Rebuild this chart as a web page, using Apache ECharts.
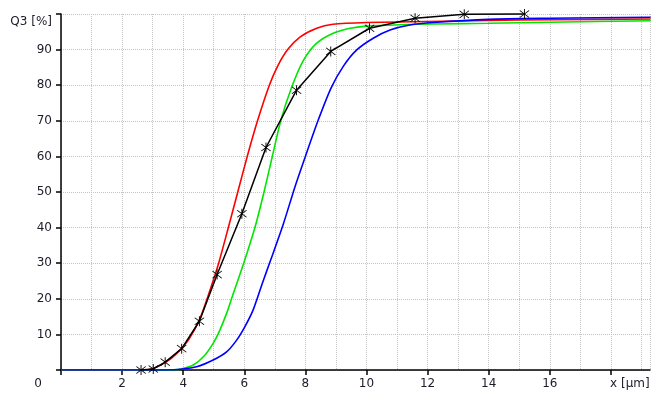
<!DOCTYPE html>
<html><head><meta charset="utf-8">
<script src="https://cdn.jsdelivr.net/npm/echarts@6/dist/echarts.min.js"></script>
<style>html,body{margin:0;padding:0;background:#fff}#c{width:656px;height:406px}</style>
</head><body><div id="c"></div>
<script>
// ---- data ----
var redCurve = [[0,0],[2.8,0],[3.0,0.4],[3.25,1.3],[3.6,3.2],[3.9,5.6],[4.2,8.8],[4.55,14.5],[4.88,22.5],[5.15,29.7],[5.48,40.1],[5.78,49.8],[6.1,60.1],[6.44,70.2],[6.82,80],[7.1,85.5],[7.42,90],[7.82,93.5],[8.37,96],[8.9,97.1],[10,97.6],[12,97.9],[14,98.2],[16,98.4],[19.3,98.6]];
var greenCurve = [[0,0],[3.67,0],[3.9,0.2],[4.33,1.4],[4.66,3.7],[4.98,7.5],[5.2,11.2],[5.42,15.9],[5.64,21.5],[5.97,29.7],[6.35,40.1],[6.64,49.8],[6.92,60.1],[7.2,70.2],[7.55,79.4],[7.93,86.9],[8.37,91.8],[8.91,94.6],[9.46,96.0],[10.0,96.6],[11.1,97.0],[12.2,97.2],[14,97.4],[16,97.7],[19.3,98.1]];
var blueCurve = [[0,0],[3.5,0],[3.9,0.2],[4.44,0.9],[4.98,2.8],[5.42,5.1],[5.75,8.4],[6.02,12.2],[6.29,16.9],[6.6,24.6],[6.86,30.8],[7.27,40.8],[7.66,51.5],[8.0,60],[8.42,70.2],[8.85,79.4],[9.24,85.3],[9.68,89.9],[10.22,93.2],[10.77,95.5],[11.42,96.9],[12.19,97.6],[14,98.5],[16,98.8],[19.3,99.1]];
var blackX = [2.62,3.02,3.41,3.95,4.53,5.11,5.92,6.71,7.71,8.83,10.1,11.59,13.2,15.17];
var blackY = [0,0.3,2.2,6.0,13.7,26.8,43.9,62.5,78.6,89.5,96.0,98.8,99.9,100];
var xTickLabels = {0:'0',2:'2',4:'4',6:'6',8:'8',10:'10',12:'12',14:'14',16:'16',18:'x [µm]'};
var yTickLabels = {10:'10',20:'20',30:'30',40:'40',50:'50',60:'60',70:'70',80:'80',90:'90',100:'Q3 [%]'};

var blackPts = blackX.map(function(x,i){return [x, blackY[i]];});
var star = 'path://M-0.7,-10L0.7,-10L0.7,10L-0.7,10Z M-7.6,-6.6L-6.6,-7.6L7.6,6.6L6.6,7.6Z M6.6,-7.6L7.6,-6.6L-6.6,7.6L-7.6,6.6Z';
var font = 'DejaVu Sans';
var txt = '#1c1c2a';
var gridStyle = {color:'#c4c4c4', type:[1,1], width:1};
var chart = echarts.init(document.getElementById('c'));
chart.setOption({
  animation:false,
  backgroundColor:'#fff',
  grid:{left:61, top:14, right:6, bottom:36, containLabel:false},
  xAxis:{type:'value', min:0, max:19.28, interval:2,
    axisLine:{lineStyle:{color:'#000', width:1.5}},
    axisTick:{show:true, length:5, lineStyle:{color:'#000', width:1.5}},
    minorTick:{show:false, splitNumber:2},
    splitLine:{show:true, lineStyle:gridStyle},
    minorSplitLine:{show:true, lineStyle:gridStyle},
    axisLabel:{fontFamily:font, fontSize:12, color:txt, margin:8, showMaxLabel:false,
      formatter:function(v){
        var s = xTickLabels[v]; if(s===undefined) return '';
        if(v===0) return '{z|'+s+'}';
        if(v===18) return '{u|'+s+'}';
        return s;},
      rich:{z:{fontFamily:font, fontSize:12, color:txt, padding:[0,46,0,0]},
            u:{fontFamily:font, fontSize:12, color:txt, padding:[0,0,0,38]}}}
  },
  yAxis:{type:'value', min:0, max:100, interval:10,
    axisLine:{show:true, lineStyle:{color:'#000', width:1.5}},
    axisTick:{show:true, length:5, lineStyle:{color:'#000', width:1.5}},
    splitLine:{show:true, lineStyle:gridStyle},
    axisLabel:{fontFamily:font, fontSize:12, color:txt, margin:9,
      formatter:function(v){
        var s = yTickLabels[v]; if(s===undefined) return '';
        if(v===100) return '{q|'+s+'}';
        return s;},
      rich:{q:{fontFamily:font, fontSize:12, color:txt, padding:[16,0,0,0]}}}
  },
  series:[
    {type:'line', data:redCurve, showSymbol:false, smooth:0.25, lineStyle:{color:'#ff0000', width:1.6}, itemStyle:{color:'#ff0000'}, z:2},
    {type:'line', data:greenCurve, showSymbol:false, smooth:0.25, lineStyle:{color:'#00e600', width:1.6}, itemStyle:{color:'#00e600'}, z:2},
    {type:'line', data:blueCurve, showSymbol:false, smooth:0.25, lineStyle:{color:'#0000ff', width:1.6}, itemStyle:{color:'#0000ff'}, z:3},
    {type:'line', data:blackPts, symbol:star, symbolSize:10, showSymbol:true, lineStyle:{color:'#000', width:1.5}, itemStyle:{color:'#000'}, z:4, clip:false}
  ]
});
</script></body></html>
